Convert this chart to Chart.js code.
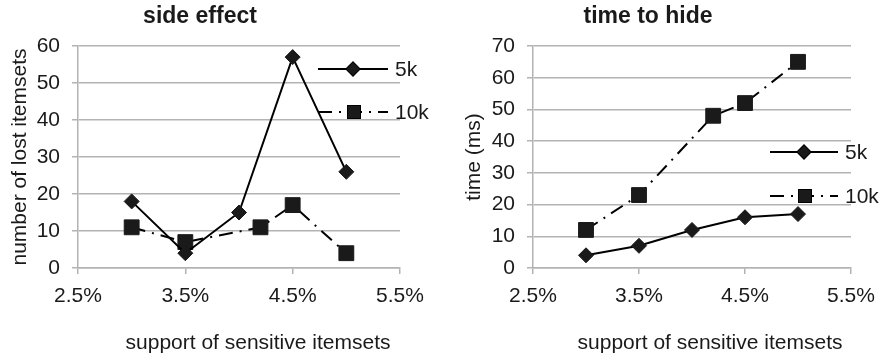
<!DOCTYPE html>
<html>
<head>
<meta charset="utf-8">
<script src="https://cdn.jsdelivr.net/npm/chart.js@4/dist/chart.umd.min.js"></script>
<style>
  html, body { margin: 0; padding: 0; background: #fff; }
  .panel { position: absolute; top: 0; height: 359px; }
  #left { left: 0; width: 440px; }
  #right { left: 445px; width: 440px; }
</style>
</head>
<body>
<div class="panel" id="left"><canvas id="sideEffect" width="440" height="359"></canvas></div>
<div class="panel" id="right"><canvas id="timeToHide" width="440" height="359"></canvas></div>
<script>
// Support levels (%) at which each run was measured
const support5k = [3.0, 3.5, 4.0, 4.5, 5.0];
const support10k = [3.0, 3.5, 4.2, 4.5, 5.0];

// Side effect: number of lost itemsets
const lost5k = [18, 4, 15, 57, 26];
const lost10k = [11, 7, 11, 17, 4];

// Time to hide (ms)
const time5k = [4, 7, 12, 16, 17];
const time10k = [12, 23, 48, 52, 65];

// Axis ticks
const xTicks = ['2.5%', '3.5%', '4.5%', '5.5%'];
const seriesNames = ['5k', '10k'];

const FONT = "'Liberation Sans', Arial, Helvetica, sans-serif";
const INK = '#1a1a1a';
const GRID = '#b3b3b3';

function points(xs, ys) {
  return xs.map((x, i) => ({ x: x, y: ys[i] }));
}

// Legend drawn inside the plot area: line sample, marker, label
const innerLegend = {
  id: 'innerLegend',
  afterDatasetsDraw(chart, args, opts) {
    const ctx = chart.ctx;
    chart.data.datasets.forEach((ds, i) => {
      const row = opts.rows[i];
      ctx.save();
      ctx.strokeStyle = ds.borderColor;
      ctx.lineWidth = ds.borderWidth;
      ctx.setLineDash(ds.borderDash || []);
      ctx.beginPath();
      ctx.moveTo(row.x0, row.y);
      ctx.lineTo(row.x1, row.y);
      ctx.stroke();
      ctx.setLineDash([]);
      Chart.helpers.drawPoint(ctx, {
        pointStyle: ds.pointStyle,
        radius: ds.legendRadius,
        borderWidth: 1
      }, (row.x0 + row.x1) / 2 + (row.markerShift || 0), row.y);
      ctx.fillStyle = ds.pointBackgroundColor;
      ctx.fill();
      ctx.fillStyle = INK;
      ctx.font = opts.font;
      ctx.textBaseline = 'middle';
      ctx.textAlign = 'left';
      ctx.fillText(ds.label, row.x1 + opts.gap, row.y + 1);
      ctx.restore();
    });
  }
};

// Caption under the x axis
const xCaption = {
  id: 'xCaption',
  afterDraw(chart, args, opts) {
    const ctx = chart.ctx;
    ctx.save();
    ctx.fillStyle = INK;
    ctx.font = opts.font;
    ctx.textAlign = 'center';
    ctx.textBaseline = 'middle';
    ctx.fillText(opts.text, opts.x, opts.y);
    ctx.restore();
  }
};

function makeChart(id, cfg) {
  const datasets = [
    {
      label: seriesNames[0],
      data: points(support5k, cfg.values5k),
      borderColor: '#000',
      borderWidth: 2,
      pointStyle: 'rectRot',
      pointRadius: 7.5,
      legendRadius: 6.5,
      pointBackgroundColor: INK,
      pointBorderColor: INK,
      pointBorderWidth: 1,
      showLine: true,
      tension: 0
    },
    {
      label: seriesNames[1],
      data: points(support10k, cfg.values10k),
      borderColor: '#000',
      borderWidth: 2,
      borderDash: [14, 7, 2, 7],
      pointStyle: 'rect',
      pointRadius: 10.5,
      legendRadius: 8.5,
      pointBackgroundColor: INK,
      pointBorderColor: INK,
      pointBorderWidth: 1,
      showLine: true,
      tension: 0
    }
  ];

  return new Chart(document.getElementById(id), {
    type: 'scatter',
    data: { datasets: datasets },
    plugins: [innerLegend, xCaption],
    options: {
      responsive: false,
      animation: false,
      layout: { padding: { left: 0, right: cfg.padRight, top: 0, bottom: 0 } },
      plugins: {
        legend: { display: false },
        tooltip: { enabled: false },
        title: {
          display: true,
          text: cfg.title,
          color: INK,
          font: { family: FONT, size: 23, weight: 'bold' },
          padding: { top: 3.2, bottom: 15.2 }
        },
        innerLegend: {
          rows: cfg.legendRows,
          gap: 7,
          font: '21px ' + FONT
        },
        xCaption: {
          text: 'support of sensitive itemsets',
          x: cfg.captionX,
          y: 343,
          font: '21px ' + FONT
        }
      },
      scales: {
        x: {
          type: 'linear',
          min: 2.5,
          max: 5.5,
          afterBuildTicks(scale) {
            scale.ticks = xTicks.map(t => ({ value: parseFloat(t) }));
          },
          afterFit(scale) { scale.height = 91; },
          ticks: {
            color: INK,
            padding: 10,
            font: { family: FONT, size: 21 },
            callback: (v) => v.toFixed(1) + '%'
          },
          grid: {
            drawOnChartArea: false,
            drawTicks: true,
            tickLength: 6,
            color: GRID,
            lineWidth: 1.5
          },
          border: { display: true, color: GRID, width: 1.5 }
        },
        y: {
          min: 0,
          max: cfg.yMax,
          afterFit(scale) { scale.width = cfg.yWidth; },
          ticks: {
            stepSize: 10,
            color: INK,
            padding: 12,
            font: { family: FONT, size: 21 }
          },
          grid: {
            color: GRID,
            lineWidth: 1.5,
            tickLength: 6
          },
          border: { display: true, color: GRID, width: 1.5 },
          title: {
            display: true,
            text: cfg.yTitle,
            color: INK,
            font: { family: FONT, size: 21 },
            padding: { top: cfg.yTitlePad, bottom: 0 }
          }
        }
      }
    }
  });
}

makeChart('sideEffect', {
  title: 'side effect',
  yTitle: 'number of lost itemsets',
  values5k: lost5k,
  values10k: lost10k,
  yMax: 60,
  yWidth: 78,
  yTitlePad: 7.4,
  padRight: 40,
  captionX: 258,
  legendRows: [
    { x0: 318, x1: 388, y: 69 },
    { x0: 318, x1: 388, y: 112, markerShift: 1 }
  ]
});

makeChart('timeToHide', {
  title: 'time to hide',
  yTitle: 'time (ms)',
  values5k: time5k,
  values10k: time10k,
  yMax: 70,
  yWidth: 88,
  yTitlePad: 16.4,
  padRight: 34,
  captionX: 265,
  legendRows: [
    { x0: 325, x1: 393, y: 152 },
    { x0: 325, x1: 393, y: 196, markerShift: 1 }
  ]
});
</script>
</body>
</html>
